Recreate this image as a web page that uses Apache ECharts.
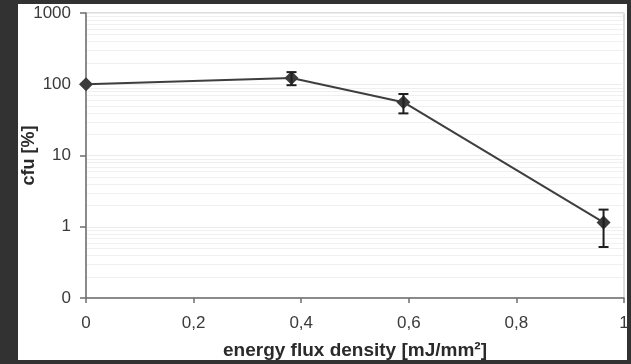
<!DOCTYPE html>
<html>
<head>
<meta charset="utf-8">
<script src="https://cdn.jsdelivr.net/npm/echarts@6/dist/echarts.min.js"></script>
<style>
  html, body { margin: 0; padding: 0; background: #323232; }
  #chart { width: 631px; height: 364px; }
</style>
</head>
<body>
<div id="chart"></div>
<script>
// Energy flux density (mJ/mm²) vs. surviving colony forming units (%)
const fluxDensity = [0, 0.382, 0.59, 0.962];
const cfuPercent  = [100, 122, 56, 1.15];
const errLower    = [100, 97, 39, 0.52];
const errUpper    = [100, 148, 73, 1.74];

// log-axis decades and the minor gridline multipliers inside each decade
const decades = [0.1, 1, 10, 100];
const minorSteps = [2, 3, 4, 5, 6, 7, 8, 9];

const minorValues = [];
decades.forEach(d => minorSteps.forEach(k => minorValues.push([+(d * k).toPrecision(3)])));

const points = fluxDensity.map((x, i) => [x, cfuPercent[i]]);
const bars = fluxDensity.map((x, i) => [x, errLower[i], errUpper[i]]);

const chart = echarts.init(document.getElementById('chart'), null, { renderer: 'canvas' });

const axisFont = { fontFamily: 'Liberation Sans', fontSize: 17, color: '#3a3a3a' };
const titleFont = { fontFamily: 'Liberation Sans', fontWeight: 'bold', fontSize: 18, color: '#2a2a2a' };

chart.setOption({
  backgroundColor: '#323232',
  animation: false,
  graphic: [{
    type: 'rect',
    shape: { x: 18, y: 4, width: 609, height: 356 },
    style: { fill: '#ffffff' },
    z: -10
  }],
  grid: {
    left: 86, right: 7, top: 13, bottom: 66,
    outerBoundsMode: 'none',
    containLabel: false,
    show: true, borderColor: '#bdbdbd', borderWidth: 1, backgroundColor: 'transparent'
  },
  xAxis: {
    type: 'value', min: 0, max: 1, interval: 0.2,
    name: 'energy flux density [mJ/mm²]',
    nameLocation: 'middle', nameGap: 43, nameMoveOverlap: false,
    nameTextStyle: Object.assign({}, titleFont, { fontSize: 19 }),
    axisLine: { lineStyle: { color: '#6e6e6e', width: 1.5 } },
    axisTick: { show: true, length: 5, lineStyle: { color: '#6e6e6e', width: 1.5 } },
    axisLabel: Object.assign({
      margin: 17,
      formatter: v => String(+v.toFixed(1)).replace('.', ',')
    }, axisFont),
    splitLine: { show: false }
  },
  yAxis: {
    type: 'log', logBase: 10, min: 0.1, max: 1000,
    name: 'cfu [%]',
    nameLocation: 'middle', nameGap: 48, nameRotate: 90, nameMoveOverlap: false,
    nameTextStyle: titleFont,
    axisLine: { show: true, lineStyle: { color: '#6e6e6e', width: 1.5 } },
    axisTick: { show: true, length: 6, lineStyle: { color: '#6e6e6e', width: 1.5 } },
    axisLabel: Object.assign({
      margin: 15,
      formatter: v => (v < 1 ? '0' : String(Math.round(v)))
    }, axisFont),
    splitLine: { show: true, lineStyle: { color: '#ececec', width: 1 } },
    minorTick: { show: false },
    minorSplitLine: { show: false }
  },
  series: [
    {
      // faint minor gridlines at 2..9 of each decade
      type: 'custom',
      data: minorValues,
      encode: { y: 0 },
      z: 1,
      silent: true,
      renderItem: (params, api) => {
        const cs = params.coordSys;
        const y = Math.round(api.coord([0, api.value(0)])[1]) + 0.5;
        return {
          type: 'line',
          shape: { x1: cs.x + 1, y1: y, x2: cs.x + cs.width - 1, y2: y },
          style: { stroke: '#f0f0f0', lineWidth: 1 }
        };
      }
    },
    {
      type: 'line',
      data: points,
      symbol: 'diamond',
      symbolSize: 14,
      itemStyle: { color: '#3b3b3b' },
      lineStyle: { color: '#3e3e3e', width: 2 },
      z: 5
    },
    {
      type: 'custom',
      data: bars,
      z: 6,
      renderItem: (params, api) => {
        const x = api.value(0);
        const lo = api.coord([x, api.value(1)]);
        const hi = api.coord([x, api.value(2)]);
        const cap = 5;
        const style = { stroke: '#1e1e1e', lineWidth: 2 };
        if (Math.abs(lo[1] - hi[1]) < 1) return null;
        return {
          type: 'group',
          children: [
            { type: 'line', shape: { x1: lo[0], y1: lo[1], x2: hi[0], y2: hi[1] }, style },
            { type: 'line', shape: { x1: lo[0] - cap, y1: lo[1], x2: lo[0] + cap, y2: lo[1] }, style },
            { type: 'line', shape: { x1: hi[0] - cap, y1: hi[1], x2: hi[0] + cap, y2: hi[1] }, style }
          ]
        };
      }
    }
  ]
});
</script>
</body>
</html>
